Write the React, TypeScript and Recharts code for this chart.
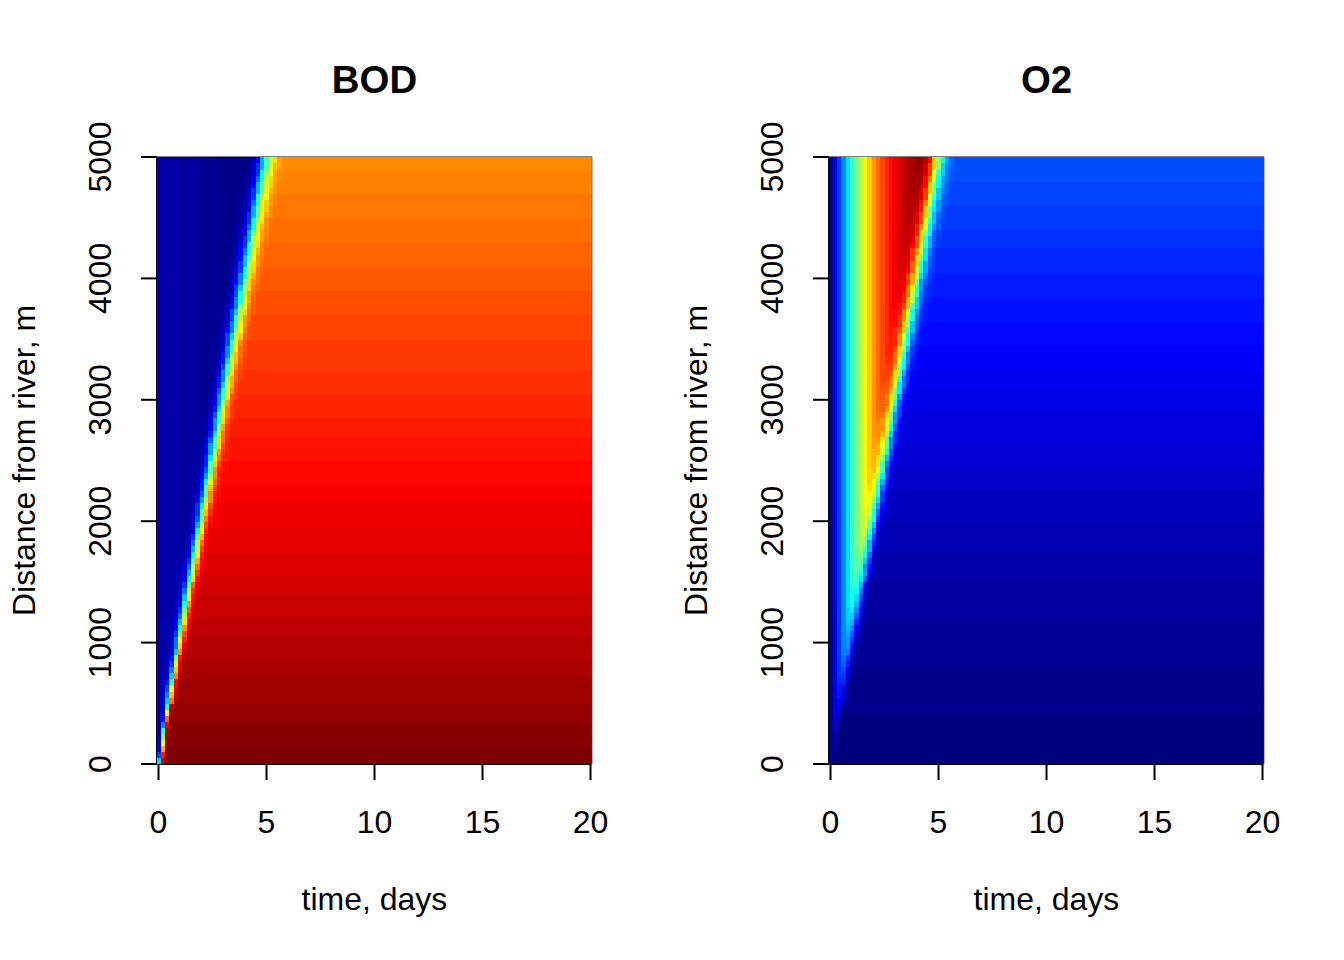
import React from "react";
import { ScatterChart, Scatter, XAxis, YAxis, ReferenceLine, ReferenceArea, Label } from "recharts";

const timeColumns = [0,0.2,0.4,0.6,0.8,1,1.2,1.4,1.6,1.8,2,2.2,2.4,2.6,2.8,3,3.2,3.4,3.6,3.8,4,4.2,4.4,4.6,4.8,5,5.2,5.4,5.6,5.8,6,6.2,6.4,6.6,6.8,7,7.2,7.4,7.6,7.8,8,8.2,8.4,8.6,8.8,9,9.2,9.4,9.6,9.8,10,10.2,10.4,10.6,10.8,11,11.2,11.4,11.6,11.8,12,12.2,12.4,12.6,12.8,13,13.2,13.4,13.6,13.8,14,14.2,14.4,14.6,14.8,15,15.2,15.4,15.6,15.8,16,16.2,16.4,16.6,16.8,17,17.2,17.4,17.6,17.8,18,18.2,18.4,18.6,18.8,19,19.2,19.4,19.6,19.8,20];
const distanceRows = [25,75,125,175,225,275,325,375,425,475,525,575,625,675,725,775,825,875,925,975,1025,1075,1125,1175,1225,1275,1325,1375,1425,1475,1525,1575,1625,1675,1725,1775,1825,1875,1925,1975,2025,2075,2125,2175,2225,2275,2325,2375,2425,2475,2525,2575,2625,2675,2725,2775,2825,2875,2925,2975,3025,3075,3125,3175,3225,3275,3325,3375,3425,3475,3525,3575,3625,3675,3725,3775,3825,3875,3925,3975,4025,4075,4125,4175,4225,4275,4325,4375,4425,4475,4525,4575,4625,4675,4725,4775,4825,4875,4925,4975];
const frontDay = [0.06,0.1,0.14,0.17,0.2,0.23,0.27,0.32,0.37,0.42,0.47,0.52,0.57,0.62,0.67,0.72,0.77,0.82,0.87,0.92,0.97,1.02,1.07,1.12,1.17,1.22,1.27,1.32,1.37,1.42,1.47,1.52,1.57,1.62,1.67,1.72,1.77,1.82,1.87,1.92,1.97,2.02,2.07,2.12,2.17,2.22,2.27,2.32,2.37,2.42,2.47,2.52,2.57,2.62,2.67,2.72,2.77,2.82,2.87,2.92,2.97,3.02,3.07,3.12,3.17,3.22,3.27,3.32,3.37,3.42,3.47,3.52,3.57,3.62,3.67,3.72,3.77,3.82,3.87,3.92,3.97,4.02,4.07,4.12,4.17,4.22,4.27,4.32,4.37,4.42,4.47,4.52,4.57,4.62,4.67,4.72,4.77,4.82,4.87,4.92];
const frontSpreadPer500m = [0.1,0.16,0.2,0.23,0.25,0.28,0.3,0.32,0.34,0.35];
const rampZ = [-3,-2.75,-2.5,-2.25,-2,-1.75,-1.5,-1.25,-1,-0.75,-0.5,-0.25,0,0.25,0.5,0.75,1,1.25,1.5,1.75,2,2.25,2.5,2.75,3];
const rampShare = [0.001,0.003,0.006,0.012,0.023,0.04,0.067,0.106,0.159,0.227,0.309,0.401,0.5,0.599,0.691,0.773,0.841,0.894,0.933,0.96,0.977,0.988,0.994,0.997,0.999];

// colour index (0-99 of the palette) before the front, one value per time column from t=0
const bodBeforeFront = [4,4,4,4,4,3,3,3,3,3,2,2,2,2,2,1,1,1,1,1,0,0,0,0,0,0,0,0,0];
const o2BeforeFront = [1,10,18,26,34,42,48,56,62,67,72,76,80,83,86,88,90,92,94,95,97,98,99,99,99,99,99,99,99];
// colour index after the front, as horizontal bands from the top of the panel down
const bodBandRows = [2,4,4,4,4,4,4,4,5,4,4,3,4,4,3,4,4,4,3,4,3,4,3,4,3,4,3];
const bodBandIndex = [73,74,75,76,77,78,79,80,81,82,83,84,85,86,87,88,89,90,91,92,93,94,95,96,97,98,99];
const o2BandRows = [4,4,4,3,4,4,4,4,4,3,4,5,4,4,5,5,5,6,8,8,8];
const o2BandIndex = [20,19,18,17,16,15,14,13,12,11,10,9,8,7,6,5,4,3,2,1,0];

const xTicks = [0,5,10,15,20];
const yTicks = [0,1000,2000,3000,4000,5000];
const xDomain = [-0.07, 20.06];
const palette = [[0,0,127],[0,0,255],[0,127,255],[0,255,255],[127,255,127],[255,255,0],[255,127,0],[255,0,0],[127,0,0]];

const FONT = "'Liberation Sans', Arial, sans-serif";
const PX_PER_DAY = 21.6;
const PX_PER_ROW = 607 / 100;

function colour(k: number) {
  const pos = (Math.min(99, Math.max(0, k)) / 99) * 8;
  const i = Math.min(7, Math.floor(pos));
  const f = pos - i;
  const c = palette[i].map((v, j) => Math.round(v + (palette[i + 1][j] - v) * f));
  return `rgb(${c[0]},${c[1]},${c[2]})`;
}

function expandBands(counts: number[], index: number[]) {
  const topDown: number[] = [];
  counts.forEach((n, b) => { for (let i = 0; i < n; i++) topDown.push(index[b]); });
  return topDown.reverse();
}

function share(z: number) {
  const q = Math.round(z * 4) / 4;
  if (q <= rampZ[0]) return 0;
  if (q >= rampZ[rampZ.length - 1]) return 1;
  return rampShare[rampZ.indexOf(q)];
}

function buildCells(before: number[], counts: number[], index: number[]) {
  const after = expandBands(counts, index);
  const cells: { t: number; d: number; span: number; fill: string }[] = [];
  distanceRows.forEach((d, r) => {
    const spread = frontSpreadPer500m[Math.floor(r / 10)];
    let runStart = -1;
    let runKey = -1;
    const flush = (end: number) => {
      if (runStart < 0) return;
      const a = Math.max(timeColumns[runStart] - 0.1, xDomain[0]);
      const b = Math.min(timeColumns[end] + 0.1, xDomain[1]);
      cells.push({ t: (a + b) / 2, d, span: b - a, fill: colour(runKey) });
    };
    timeColumns.forEach((t, c) => {
      const left = before[Math.min(c, before.length - 1)];
      const s = share((t - frontDay[r]) / spread);
      const k = Math.round(after[r] + (left - after[r]) * (1 - s));
      if (k !== runKey) {
        flush(c - 1);
        runStart = c;
        runKey = k;
      }
    });
    flush(timeColumns.length - 1);
  });
  return cells;
}

const CellShape = (p: any) => {
  const w = p.payload.span * PX_PER_DAY;
  return (
    <rect
      x={p.cx - w / 2}
      y={p.cy - PX_PER_ROW / 2}
      width={w}
      height={PX_PER_ROW + 0.4}
      fill={p.payload.fill}
      shapeRendering="crispEdges"
    />
  );
};

const XTick = ({ x, y, payload }: any) => (
  <text x={x} y={y + 51} textAnchor="middle" fontFamily={FONT} fontSize={32} fill="#000">{payload.value}</text>
);
const YTick = ({ x, y, payload }: any) => (
  <text x={x - 28} y={y} textAnchor="middle" fontFamily={FONT} fontSize={32} fill="#000" transform={`rotate(-90 ${x - 28} ${y})`}>{payload.value}</text>
);

function Panel({ title, left, cells }: { title: string; left: number; cells: any[] }) {
  const axisStroke = { stroke: "#000", strokeWidth: 2 };
  return (
    <div style={{ position: "absolute", left, top: 0 }}>
      <ScatterChart width={672} height={960} margin={{ top: 157, right: 80.2, bottom: 0, left: 0 }}>
        <XAxis type="number" dataKey="t" domain={xDomain} ticks={xTicks} interval={0} height={196} tickSize={16} tickLine={axisStroke} axisLine={false} tick={<XTick />} allowDataOverflow>
          <Label value="time, days" position="insideBottom" offset={50} fontFamily={FONT} fontSize={32} fill="#000" />
        </XAxis>
        <YAxis type="number" dataKey="d" domain={[0, 5000]} ticks={yTicks} interval={0} width={157} tickSize={16} tickLine={axisStroke} axisLine={axisStroke} tick={<YTick />} allowDataOverflow>
          <Label value="Distance from river, m" angle={-90} position="insideLeft" offset={24} fontFamily={FONT} fontSize={32} fill="#000" style={{ textAnchor: "middle" }} />
        </YAxis>
        <Scatter data={cells} shape={CellShape} isAnimationActive={false} />
        <ReferenceArea x1={xDomain[0]} x2={xDomain[1]} y1={0} y2={5000} fill="none" stroke="#000" strokeWidth={1} ifOverflow="visible" />
        <ReferenceLine segment={[{ x: 0, y: 0 }, { x: 20, y: 0 }]} stroke="#000" strokeWidth={2} ifOverflow="visible" />
        <text x={374.5} y={93} textAnchor="middle" fontFamily={FONT} fontSize={38.4} fontWeight="bold" fill="#000">{title}</text>
      </ScatterChart>
    </div>
  );
}

const bodCells = buildCells(bodBeforeFront, bodBandRows, bodBandIndex);
const o2Cells = buildCells(o2BeforeFront, o2BandRows, o2BandIndex);

export default function App() {
  return (
    <div style={{ position: "absolute", left: 0, top: 0, width: 1344, height: 960, background: "#fff" }}>
      <Panel title="BOD" left={0} cells={bodCells} />
      <Panel title="O2" left={672} cells={o2Cells} />
    </div>
  );
}
